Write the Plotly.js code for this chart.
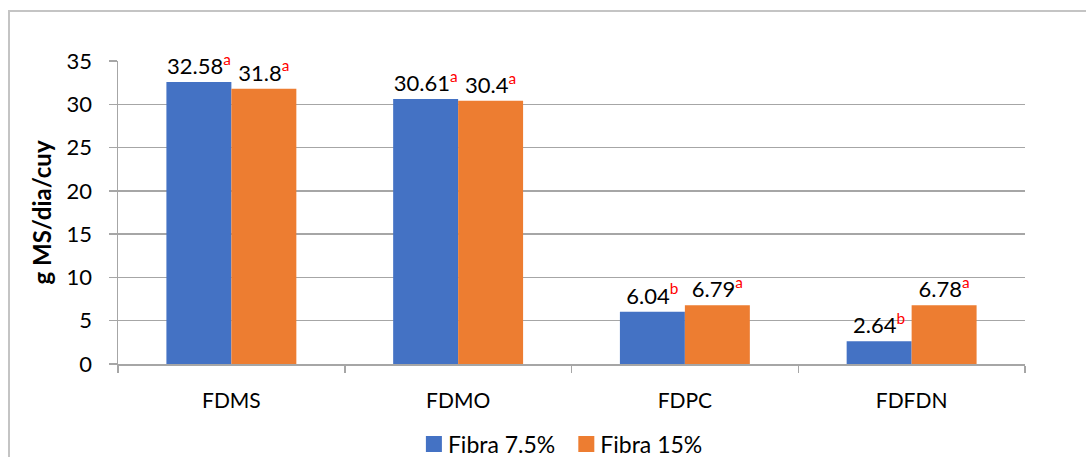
<!DOCTYPE html>
<html>
<head>
<meta charset="utf-8">
<script src="https://cdn.plot.ly/plotly-3.0.1.min.js"></script>
<style>
  html, body { margin: 0; padding: 0; background: #fff; }
  #wrap { position: relative; width: 1086px; height: 457px; overflow: hidden; }
  #frame { position: absolute; left: 8px; top: 10px; width: 1200px; height: 600px; border: 2px solid #c4c4c4; box-sizing: border-box; }
  #chart { position: absolute; left: 0; top: 0; width: 1086px; height: 457px; }
</style>
</head>
<body>
<div id="wrap">
  <div id="frame"></div>
  <div id="chart"></div>
</div>
<script>
const categories = ["FDMS", "FDMO", "FDPC", "FDFDN"];
const seriesNames = ["Fibra 7.5%", "Fibra 15%"];
const fibra75 = [32.58, 30.61, 6.04, 2.64];
const fibra15 = [31.8, 30.4, 6.79, 6.78];
const letters75 = ["a", "a", "b", "b"];
const letters15 = ["a", "a", "a", "a"];
const yTickVals = [0, 5, 10, 15, 20, 25, 30, 35];

const FONT = "Lato, 'Open Sans', sans-serif";

function labels(vals, lets) {
  return vals.map((v, i) => String(v) + '<span style="color:#ff0000"><sup>' + lets[i] + '</sup></span>');
}

const traces = [
  {
    type: "bar", name: seriesNames[0], x: categories, y: fibra75,
    marker: { color: "#4472C4" },
    text: labels(fibra75, letters75), textposition: "outside", cliponaxis: false,
    textfont: { family: FONT, size: 22, color: "#000" }, hoverinfo: "x+y"
  },
  {
    type: "bar", name: seriesNames[1], x: categories, y: fibra15,
    marker: { color: "#ED7D31" },
    text: labels(fibra15, letters15), textposition: "outside", cliponaxis: false,
    textfont: { family: FONT, size: 22, color: "#000" }, hoverinfo: "x+y"
  }
];

const layout = {
  width: 1086, height: 457,
  margin: { l: 118, r: 61, t: 61, b: 93, autoexpand: false },
  paper_bgcolor: "rgba(0,0,0,0)", plot_bgcolor: "rgba(0,0,0,0)",
  font: { family: FONT, size: 20, color: "#000" },
  barmode: "group", bargap: 0.427, bargroupgap: 0,
  showlegend: true,
  legend: {
    orientation: "h", x: 0.485, xanchor: "center", y: -0.264, yanchor: "middle",
    font: { family: FONT, size: 23, color: "#000" }, traceorder: "normal"
  },
  xaxis: {
    type: "category", showgrid: false, showline: true, linecolor: "#a6a6a6", linewidth: 1.5,
    ticks: "outside", tickson: "boundaries", ticklen: 7, tickcolor: "#a6a6a6", tickwidth: 1.5,
    ticklabelstandoff: 17, tickfont: { family: FONT, size: 21, color: "#000" }
  },
  yaxis: {
    range: [0, 35], tickvals: yTickVals, showgrid: true, gridcolor: "#a6a6a6", gridwidth: 1.5,
    showline: true, linecolor: "#a6a6a6", linewidth: 1.5, zeroline: false,
    ticks: "outside", ticklen: 8, tickcolor: "#a6a6a6", tickwidth: 1.5,
    ticklabelstandoff: 12,
    tickfont: { family: FONT, size: 22, color: "#000" },
    title: { text: "<b>g MS/dia/cuy</b>", font: { family: FONT, size: 24, color: "#000" }, standoff: 8 }
  }
};

Plotly.newPlot("chart", traces, layout, { displayModeBar: false, staticPlot: true }).then(function (gd) {
  // enlarge legend swatches to 16px squares sitting close to their labels, as in the reference
  gd.querySelectorAll(".legend .legendpoints path").forEach(function (p) {
    p.setAttribute("d", "M14,8H-2V-8H14Z");
  });
});
</script>
</body>
</html>
